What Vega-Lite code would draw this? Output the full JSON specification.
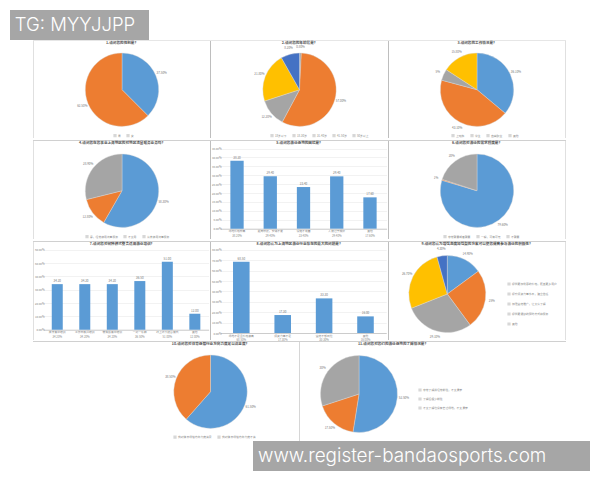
{"$schema":"https://vega.github.io/schema/vega-lite/v6.json","background":"white","padding":{"left":10,"top":10,"right":10,"bottom":10},"spacing":0,"bounds":"full","resolve":{"scale":{"color":"independent","theta":"independent"},"legend":{"color":"independent"}},"datasets":{"blank":[{"label":""}]},"config":{"font":"Noto Sans CJK SC","view":{"stroke":null},"title":{"fontSize":3.6,"fontWeight":"bold","color":"#555555","offset":-4,"anchor":"middle"},"axis":{"labelFontSize":2.8,"labelColor":"#888888","title":null,"ticks":false,"labelPadding":1},"legend":{"labelFontSize":2.8,"labelColor":"#888888","symbolSize":3,"title":null,"rowPadding":1,"columnPadding":3,"labelOffset":1,"symbolType":"square"}},"vconcat":[{"width":139,"height":30,"view":{"fill":"#A6A6A6"},"data":{"values":[{"label":"TG: MYYJJPP","pos":0.035}]},"mark":{"type":"text","align":"left","baseline":"middle","font":"Inter","fontSize":18.5,"fontWeight":300,"color":"white"},"encoding":{"text":{"field":"label"},"x":{"field":"pos","type":"quantitative","scale":{"domain":[0,1]},"axis":null}}},{"spacing":0,"bounds":"flush","hconcat":[{"width":23,"height":1,"data":{"name":"blank"},"mark":{"type":"text","fontSize":0},"encoding":{"text":{"field":"label"}}},{"width":533,"height":1,"view":{"fill":"#E6E6E6"},"data":{"name":"blank"},"mark":{"type":"text","fontSize":0},"encoding":{"text":{"field":"label"}}}]},{"spacing":0,"bounds":"flush","resolve":{"scale":{"color":"independent","theta":"independent"},"legend":{"color":"independent"}},"hconcat":[{"width":23,"height":97,"data":{"name":"blank"},"mark":{"type":"text","fontSize":0},"encoding":{"text":{"field":"label"}}},{"width":1,"height":97,"view":{"fill":"#E0E0E0"},"data":{"name":"blank"},"mark":{"type":"text","fontSize":0},"encoding":{"text":{"field":"label"}}},{"width":176,"height":97,"title":"1.请问您的性别是？","data":{"values":[{"name":"男","v":37.5,"i":1,"label":"37.50%"},{"name":"女","v":62.5,"i":2,"label":"62.50%"}]},"encoding":{"theta":{"field":"v","type":"quantitative","stack":true},"order":{"field":"i"}},"layer":[{"mark":{"type":"arc","radius":36.7,"yOffset":0.2,"stroke":"#D8D8D8","strokeWidth":0.4},"encoding":{"color":{"field":"name","type":"nominal","sort":null,"scale":{"range":["#5B9BD5","#ED7D31"]},"legend":{"orient":"none","legendX":79,"legendY":92.5,"direction":"horizontal"}}}},{"mark":{"type":"text","radius":43,"yOffset":0.2,"fontSize":3,"color":"#777777"},"encoding":{"text":{"field":"label"},"detail":{"field":"name"}}}]},{"width":1,"height":97,"view":{"fill":"#BEBEBE"},"data":{"name":"blank"},"mark":{"type":"text","fontSize":0},"encoding":{"text":{"field":"label"}}},{"width":177,"height":97,"title":"2.请问您的年龄段是？","data":{"values":[{"name":"18岁以下","v":0.8,"i":1,"label":"0.80%"},{"name":"18-30岁","v":57.0,"i":2,"label":"57.00%"},{"name":"31-40岁","v":12.2,"i":3,"label":"12.20%"},{"name":"41-50岁","v":21.8,"i":4,"label":"21.80%"},{"name":"50岁以上","v":8.2,"i":5,"label":"8.20%"}]},"encoding":{"theta":{"field":"v","type":"quantitative","stack":true},"order":{"field":"i"}},"layer":[{"mark":{"type":"arc","radius":36.7,"yOffset":0.2,"stroke":"#D8D8D8","strokeWidth":0.4},"encoding":{"color":{"field":"name","type":"nominal","sort":null,"scale":{"range":["#A5A5A5","#ED7D31","#A5A5A5","#FFC000","#4472C4"]},"legend":{"orient":"none","legendX":59,"legendY":92.5,"direction":"horizontal"}}}},{"mark":{"type":"text","radius":43,"yOffset":0.2,"fontSize":3,"color":"#777777"},"encoding":{"text":{"field":"label"},"detail":{"field":"name"}}}]},{"width":1,"height":97,"view":{"fill":"#BEBEBE"},"data":{"name":"blank"},"mark":{"type":"text","fontSize":0},"encoding":{"text":{"field":"label"}}},{"width":176,"height":97,"title":"3.请问您的工作情况是？","data":{"values":[{"name":"上班族","v":36.1,"i":1,"label":"36.10%"},{"name":"学生","v":43.1,"i":2,"label":"43.10%"},{"name":"自由职业","v":5,"i":3,"label":"5%"},{"name":"其他","v":15.8,"i":4,"label":"15.80%"}]},"encoding":{"theta":{"field":"v","type":"quantitative","stack":true},"order":{"field":"i"}},"layer":[{"mark":{"type":"arc","radius":36.7,"yOffset":0.2,"stroke":"#D8D8D8","strokeWidth":0.4},"encoding":{"color":{"field":"name","type":"nominal","sort":null,"scale":{"range":["#5B9BD5","#ED7D31","#A5A5A5","#FFC000"]},"legend":{"orient":"none","legendX":62,"legendY":92.5,"direction":"horizontal"}}}},{"mark":{"type":"text","radius":43,"yOffset":0.2,"fontSize":3,"color":"#777777"},"encoding":{"text":{"field":"label"},"detail":{"field":"name"}}}]},{"width":1,"height":97,"view":{"fill":"#E0E0E0"},"data":{"name":"blank"},"mark":{"type":"text","fontSize":0},"encoding":{"text":{"field":"label"}}}]},{"spacing":0,"bounds":"flush","hconcat":[{"width":23,"height":1,"data":{"name":"blank"},"mark":{"type":"text","fontSize":0},"encoding":{"text":{"field":"label"}}},{"width":533,"height":1,"view":{"fill":"#D0D0D0"},"data":{"name":"blank"},"mark":{"type":"text","fontSize":0},"encoding":{"text":{"field":"label"}}}]},{"spacing":0,"bounds":"flush","resolve":{"scale":{"color":"independent","theta":"independent"},"legend":{"color":"independent"}},"hconcat":[{"width":23,"height":98,"data":{"name":"blank"},"mark":{"type":"text","fontSize":0},"encoding":{"text":{"field":"label"}}},{"width":1,"height":98,"view":{"fill":"#E0E0E0"},"data":{"name":"blank"},"mark":{"type":"text","fontSize":0},"encoding":{"text":{"field":"label"}}},{"width":176,"height":98,"title":"4.请问您在您事业上海地区的对地区流量服务业务吗？","data":{"values":[{"name":"是，经常使用流量服务","v":58.3,"i":1,"label":"58.30%"},{"name":"不太用","v":12.8,"i":2,"label":"12.80%"},{"name":"从未使用流量服务","v":28.9,"i":3,"label":"28.90%"}]},"encoding":{"theta":{"field":"v","type":"quantitative","stack":true},"order":{"field":"i"}},"layer":[{"mark":{"type":"arc","radius":36.7,"yOffset":0.7,"stroke":"#D8D8D8","strokeWidth":0.4},"encoding":{"color":{"field":"name","type":"nominal","sort":null,"scale":{"range":["#5B9BD5","#ED7D31","#A5A5A5"]},"legend":{"orient":"none","legendX":51,"legendY":93.5,"direction":"horizontal"}}}},{"mark":{"type":"text","radius":43,"yOffset":0.7,"fontSize":3,"color":"#777777"},"encoding":{"text":{"field":"label"},"detail":{"field":"name"}}}]},{"width":1,"height":98,"view":{"fill":"#BEBEBE"},"data":{"name":"blank"},"mark":{"type":"text","fontSize":0},"encoding":{"text":{"field":"label"}}},{"width":177,"height":98,"title":"5.请问您游泳场地的困扰是？","data":{"values":[{"name":"场地价格较高|38.20%","v":38.2},{"name":"距离较远，交通不便|29.40%","v":29.4},{"name":"设施不完善|23.40%","v":23.4},{"name":"人数过于拥挤|29.40%","v":29.4},{"name":"其他|17.60%","v":17.6}]},"encoding":{"x":{"field":"name","type":"nominal","sort":null,"scale":{"range":[9.4,175.6],"paddingInner":0.6,"paddingOuter":0.3},"axis":{"offset":-10.3,"labelAngle":0,"labelExpr":"split(datum.label,'|')","labelLineHeight":5,"labelLimit":40,"domainColor":"#CCCCCC"}},"y":{"field":"v","type":"quantitative","scale":{"domain":[-5.8,49.26],"nice":false,"zero":false},"axis":{"offset":-11,"values":[0,5,10,15,20,25,30,35,40,45],"format":".2f","labelExpr":"datum.label+'%'","domain":false,"gridColor":"#F2F2F2"}}},"layer":[{"mark":{"type":"bar","color":"#5B9BD5"}},{"mark":{"type":"text","dy":-3,"fontSize":3,"color":"#777777"},"encoding":{"text":{"field":"v","type":"quantitative","format":".2f"}}}]},{"width":1,"height":98,"view":{"fill":"#BEBEBE"},"data":{"name":"blank"},"mark":{"type":"text","fontSize":0},"encoding":{"text":{"field":"label"}}},{"width":176,"height":98,"title":"6.请问您对游泳的需求程度是？","data":{"values":[{"name":"非常需要或者需要","v":79.6,"i":1,"label":"79.60%"},{"name":"一般，可有可无","v":0.4,"i":2,"label":"1%"},{"name":"不需要","v":20,"i":3,"label":"20%"}]},"encoding":{"theta":{"field":"v","type":"quantitative","stack":true},"order":{"field":"i"}},"layer":[{"mark":{"type":"arc","radius":36.7,"yOffset":0.7,"stroke":"#D8D8D8","strokeWidth":0.4},"encoding":{"color":{"field":"name","type":"nominal","sort":null,"scale":{"range":["#5B9BD5","#ED7D31","#A5A5A5"]},"legend":{"orient":"none","legendX":54,"legendY":93.5,"direction":"horizontal"}}}},{"mark":{"type":"text","radius":43,"yOffset":0.7,"fontSize":3,"color":"#777777"},"encoding":{"text":{"field":"label"},"detail":{"field":"name"}}}]},{"width":1,"height":98,"view":{"fill":"#E0E0E0"},"data":{"name":"blank"},"mark":{"type":"text","fontSize":0},"encoding":{"text":{"field":"label"}}}]},{"spacing":0,"bounds":"flush","hconcat":[{"width":23,"height":1,"data":{"name":"blank"},"mark":{"type":"text","fontSize":0},"encoding":{"text":{"field":"label"}}},{"width":533,"height":1,"view":{"fill":"#D0D0D0"},"data":{"name":"blank"},"mark":{"type":"text","fontSize":0},"encoding":{"text":{"field":"label"}}}]},{"spacing":0,"bounds":"flush","resolve":{"scale":{"color":"independent","theta":"independent"},"legend":{"color":"independent"}},"hconcat":[{"width":23,"height":98,"data":{"name":"blank"},"mark":{"type":"text","fontSize":0},"encoding":{"text":{"field":"label"}}},{"width":1,"height":98,"view":{"fill":"#E0E0E0"},"data":{"name":"blank"},"mark":{"type":"text","fontSize":0},"encoding":{"text":{"field":"label"}}},{"width":176,"height":98,"title":"7.请问您对何种模式整合适用游泳培训？","data":{"values":[{"name":"周末集中培训|34.20%","v":34.2},{"name":"工作日晚间培训|34.20%","v":34.2},{"name":"寒暑假集中培训|34.20%","v":34.2},{"name":"一对一私教|36.50%","v":36.5},{"name":"线上线下结合模式|51.00%","v":51},{"name":"其他|12.00%","v":12}]},"encoding":{"x":{"field":"name","type":"nominal","sort":null,"scale":{"range":[9.5,174.6],"paddingInner":0.6,"paddingOuter":0.3},"axis":{"offset":-10.3,"labelAngle":0,"labelExpr":"split(datum.label,'|')","labelLineHeight":5,"labelLimit":30,"domainColor":"#CCCCCC"}},"y":{"field":"v","type":"quantitative","scale":{"domain":[-7.7,65.8],"nice":false,"zero":false},"axis":{"offset":-11,"values":[0,10,20,30,40,50,60],"format":".2f","labelExpr":"datum.label+'%'","domain":false,"gridColor":"#F2F2F2"}}},"layer":[{"mark":{"type":"bar","color":"#5B9BD5"}},{"mark":{"type":"text","dy":-3,"fontSize":3,"color":"#777777"},"encoding":{"text":{"field":"v","type":"quantitative","format":".2f"}}}]},{"width":1,"height":98,"view":{"fill":"#BEBEBE"},"data":{"name":"blank"},"mark":{"type":"text","fontSize":0},"encoding":{"text":{"field":"label"}}},{"width":177,"height":98,"title":"8.请问您认为上海地区游泳行业存在的最大的问题是？","data":{"values":[{"name":"场地不足且价格偏高|68.50%","v":68.5},{"name":"师资力量不足|17.30%","v":17.3},{"name":"宣传不够到位|33.30%","v":33.3},{"name":"其他|16.00%","v":16}]},"encoding":{"x":{"field":"name","type":"nominal","sort":null,"scale":{"range":[9.6,175.2],"paddingInner":0.6,"paddingOuter":0.3},"axis":{"offset":-7,"labelAngle":0,"labelExpr":"split(datum.label,'|')","labelLineHeight":4,"labelLimit":40,"domainColor":"#CCCCCC"}},"y":{"field":"v","type":"quantitative","scale":{"domain":[-6.7,87.5],"nice":false,"zero":false},"axis":{"offset":-11,"values":[0,10,20,30,40,50,60,70,80],"format":".2f","labelExpr":"datum.label+'%'","domain":false,"gridColor":"#F2F2F2"}}},"layer":[{"mark":{"type":"bar","color":"#5B9BD5"}},{"mark":{"type":"text","dy":-3,"fontSize":3,"color":"#777777"},"encoding":{"text":{"field":"v","type":"quantitative","format":".2f"}}}]},{"width":1,"height":98,"view":{"fill":"#BEBEBE"},"data":{"name":"blank"},"mark":{"type":"text","fontSize":0},"encoding":{"text":{"field":"label"}}},{"width":176,"height":98,"title":"9.请问您认为增强态度加强型的方案可以使您提高参与游泳的积极性？","data":{"values":[{"name":"提供更加优惠的价格，覆盖更多用户","v":14.9,"i":1,"label":"14.90%"},{"name":"提升师资力量水平，建立信任","v":25,"i":2,"label":"25%"},{"name":"加强宣传推广，让大众了解","v":29.1,"i":3,"label":"29.10%"},{"name":"提供更便捷的预约方式和服务","v":26.7,"i":4,"label":"26.70%"},{"name":"其他","v":4.3,"i":5,"label":"4.30%"}]},"encoding":{"theta":{"field":"v","type":"quantitative","stack":true},"order":{"field":"i"}},"layer":[{"mark":{"type":"arc","radius":38.5,"xOffset":-29.7,"yOffset":3,"stroke":"#D8D8D8","strokeWidth":0.4},"encoding":{"color":{"field":"name","type":"nominal","sort":null,"scale":{"range":["#5B9BD5","#ED7D31","#A5A5A5","#FFC000","#4472C4"]},"legend":{"orient":"none","legendX":118,"legendY":40,"labelLimit":52,"rowPadding":2}}}},{"mark":{"type":"text","radius":45,"xOffset":-29.7,"yOffset":3,"fontSize":3,"color":"#777777"},"encoding":{"text":{"field":"label"},"detail":{"field":"name"}}}]},{"width":1,"height":98,"view":{"fill":"#E0E0E0"},"data":{"name":"blank"},"mark":{"type":"text","fontSize":0},"encoding":{"text":{"field":"label"}}}]},{"spacing":0,"bounds":"flush","hconcat":[{"width":23,"height":1,"data":{"name":"blank"},"mark":{"type":"text","fontSize":0},"encoding":{"text":{"field":"label"}}},{"width":533,"height":1,"view":{"fill":"#D0D0D0"},"data":{"name":"blank"},"mark":{"type":"text","fontSize":0},"encoding":{"text":{"field":"label"}}}]},{"spacing":0,"bounds":"flush","resolve":{"scale":{"color":"independent","theta":"independent"},"legend":{"color":"independent"}},"hconcat":[{"width":112,"height":99,"data":{"name":"blank"},"mark":{"type":"text","fontSize":0},"encoding":{"text":{"field":"label"}}},{"width":177,"height":99,"title":"10.请问您对体育场馆行业方向力度足以满意度？","data":{"values":[{"name":"我对体育场馆方向力度满意","v":61.5,"i":1,"label":"61.50%"},{"name":"我对体育场馆方向力度不满","v":38.5,"i":2,"label":"38.50%"}]},"encoding":{"theta":{"field":"v","type":"quantitative","stack":true},"order":{"field":"i"}},"layer":[{"mark":{"type":"arc","radius":36.7,"yOffset":0.2,"stroke":"#D8D8D8","strokeWidth":0.4},"encoding":{"color":{"field":"name","type":"nominal","sort":null,"scale":{"range":["#5B9BD5","#ED7D31"]},"legend":{"orient":"none","legendX":51,"legendY":93,"direction":"horizontal"}}}},{"mark":{"type":"text","radius":43,"yOffset":0.2,"fontSize":3,"color":"#777777"},"encoding":{"text":{"field":"label"},"detail":{"field":"name"}}}]},{"width":1,"height":99,"view":{"fill":"#D6D6D6"},"data":{"name":"blank"},"mark":{"type":"text","fontSize":0},"encoding":{"text":{"field":"label"}}},{"width":186,"height":99,"title":"11.请问您对您们的游泳场地的了解情况是？","data":{"values":[{"name":"非常了解并经常前往，不太清楚","v":52.5,"i":1,"label":"52.50%"},{"name":"了解但很少前往","v":17.5,"i":2,"label":"17.50%"},{"name":"不太了解也没有去过场地，不太清楚","v":30,"i":3,"label":"30%"}]},"encoding":{"theta":{"field":"v","type":"quantitative","stack":true},"order":{"field":"i"}},"layer":[{"mark":{"type":"arc","radius":38.5,"xOffset":-34,"yOffset":2.5,"stroke":"#D8D8D8","strokeWidth":0.4},"encoding":{"color":{"field":"name","type":"nominal","sort":null,"scale":{"range":["#5B9BD5","#ED7D31","#A5A5A5"]},"legend":{"orient":"none","legendX":118,"legendY":46,"labelLimit":60}}}},{"mark":{"type":"text","radius":45,"xOffset":-34,"yOffset":2.5,"fontSize":3,"color":"#777777"},"encoding":{"text":{"field":"label"},"detail":{"field":"name"}}}]}]},{"spacing":0,"bounds":"flush","hconcat":[{"width":243,"height":30,"data":{"name":"blank"},"mark":{"type":"text","fontSize":0},"encoding":{"text":{"field":"label"}}},{"width":337,"height":30,"view":{"fill":"#A6A6A6"},"data":{"values":[{"label":"www.register-bandaosports.com","pos":0.015}]},"mark":{"type":"text","align":"left","baseline":"middle","font":"Inter","fontSize":18.9,"fontWeight":300,"color":"white"},"encoding":{"text":{"field":"label"},"x":{"field":"pos","type":"quantitative","scale":{"domain":[0,1]},"axis":null}}}]}]}
